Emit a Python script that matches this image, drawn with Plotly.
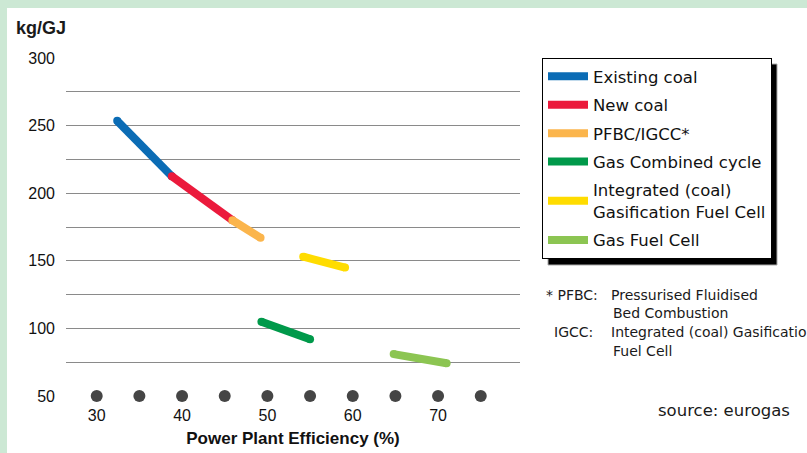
import plotly.graph_objects as go

# ---- data ----
series_names = ["Existing coal", "New coal", "PFBC/IGCC*", "Gas Combined cycle",
                "Integrated (coal)<br>Gasification Fuel Cell", "Gas Fuel Cell"]
series_colors = ["#0b6cb5", "#eb1a3c", "#fbb54c", "#00994a", "#ffdc00", "#8cc552"]
existing_x = [32.4, 38.8]
existing_y = [253.5, 212.5]
newcoal_x = [38.8, 45.9]
newcoal_y = [212.5, 180.0]
pfbc_x = [45.9, 49.2]
pfbc_y = [180.0, 167.0]
gascc_x = [49.3, 55.0]
gascc_y = [105.0, 92.0]
igfc_x = [54.2, 59.1]
igfc_y = [153.0, 145.0]
gasfc_x = [64.8, 71.0]
gasfc_y = [81.0, 74.2]
dots_x = [30, 35, 40, 45, 50, 55, 60, 65, 70, 75]
dots_y = [50] * 10
x_ticks = [30, 40, 50, 60, 70]
y_ticks = [50, 75, 100, 125, 150, 175, 200, 225, 250, 275, 300]
y_ticktext = ["50", "", "100", "", "150", "", "200", "", "250", "", "300"]

xs = [existing_x, newcoal_x, pfbc_x, gascc_x, igfc_x, gasfc_x]
ys = [existing_y, newcoal_y, pfbc_y, gascc_y, igfc_y, gasfc_y]

W, H = 807, 453
L, R, T, B = 66, 287, 58, 57
pw, ph = W - L - R, H - T - B

def px2x(p):
    return (p - L) / pw

def px2y(p):
    return (H - B - p) / ph

fig = go.Figure()

fig.add_trace(go.Scatter(x=dots_x, y=dots_y, mode="markers",
                         marker=dict(size=12, color="#454545"),
                         showlegend=False, cliponaxis=False, hoverinfo="skip"))

for i, (name, col, x, y) in enumerate(zip(series_names, series_colors, xs, ys)):
    fig.add_trace(go.Scatter(x=x, y=y, mode="lines", name=name,
                             line=dict(color=col, width=8),
                             legendgroup=f"g{i}", cliponaxis=False))
    fig.add_trace(go.Scatter(x=x, y=y, mode="markers",
                             marker=dict(color=col, size=8, line=dict(width=0)),
                             legendgroup=f"g{i}", showlegend=False,
                             cliponaxis=False, hoverinfo="skip"))

font_main = "Liberation Sans, Arial, sans-serif"
font_wide = "DejaVu Sans, Verdana, sans-serif"
green = "#cce8d4"

shapes = [
    # green frame strips
    dict(type="rect", xref="paper", yref="paper", x0=px2x(0), x1=px2x(W), y0=px2y(8), y1=px2y(0),
         fillcolor=green, line=dict(width=0), layer="below"),
    dict(type="rect", xref="paper", yref="paper", x0=px2x(0), x1=px2x(7), y0=px2y(H), y1=px2y(0),
         fillcolor=green, line=dict(width=0), layer="below"),
    # legend shadow
    dict(type="rect", xref="paper", yref="paper", x0=px2x(548), x1=px2x(777), y0=px2y(265), y1=px2y(64),
         fillcolor="#000000", line=dict(width=1, color="#aaaaaa"), layer="above"),
]

def note(text, xp, yp, size, fam=font_wide, bold=False):
    return dict(text=(f"<b>{text}</b>" if bold else text), xref="paper", yref="paper",
                x=px2x(xp), y=px2y(yp), xanchor="left", yanchor="middle", showarrow=False,
                font=dict(size=size, family=fam, color="#1a1a1a"))

annotations = [
    note("kg/GJ", 14, 28, 18, fam=font_main, bold=True),
    note("* PFBC:", 544, 295, 14),
    note("Pressurised Fluidised", 609, 295, 14),
    note("Bed Combustion", 611, 313, 14),
    note("IGCC:", 552, 332, 14),
    note("Integrated (coal) Gasification", 609, 332, 14),
    note("Fuel Cell", 611, 351, 14),
    note("source: eurogas", 656, 410, 16.5),
]

fig.update_layout(
    width=W, height=H,
    margin=dict(l=L, r=R, t=T, b=B, pad=0, autoexpand=False),
    paper_bgcolor="white", plot_bgcolor="white",
    showlegend=True,
    legend=dict(x=px2x(542), y=1.0, xanchor="left", yanchor="top",
                bgcolor="white", bordercolor="black", borderwidth=1,
                font=dict(size=16.5, family=font_wide, color="#111"),
                tracegroupgap=4, itemwidth=40),
    shapes=shapes, annotations=annotations,
    xaxis=dict(range=[26.4, 79.6], tickvals=x_ticks, showgrid=False, zeroline=False,
               showline=False, ticks="", ticklabelstandoff=8, automargin=False,
               tickfont=dict(size=16, family=font_main, color="#111"),
               title=dict(text="<b>Power Plant Efficiency (%)</b>", standoff=9,
                          font=dict(size=17, family=font_main, color="#111"))),
    yaxis=dict(range=[50, 300], tickvals=y_ticks, ticktext=y_ticktext, showgrid=True,
               gridcolor="#8a8a8a", gridwidth=1.3, zeroline=False, showline=False, ticks="",
               ticklabelstandoff=10, automargin=False,
               tickfont=dict(size=16, family=font_main, color="#111")),
)

fig.write_html("out.html", config={"displayModeBar": False},
               post_script="document.body.style.margin='0';document.body.style.overflow='hidden';")
